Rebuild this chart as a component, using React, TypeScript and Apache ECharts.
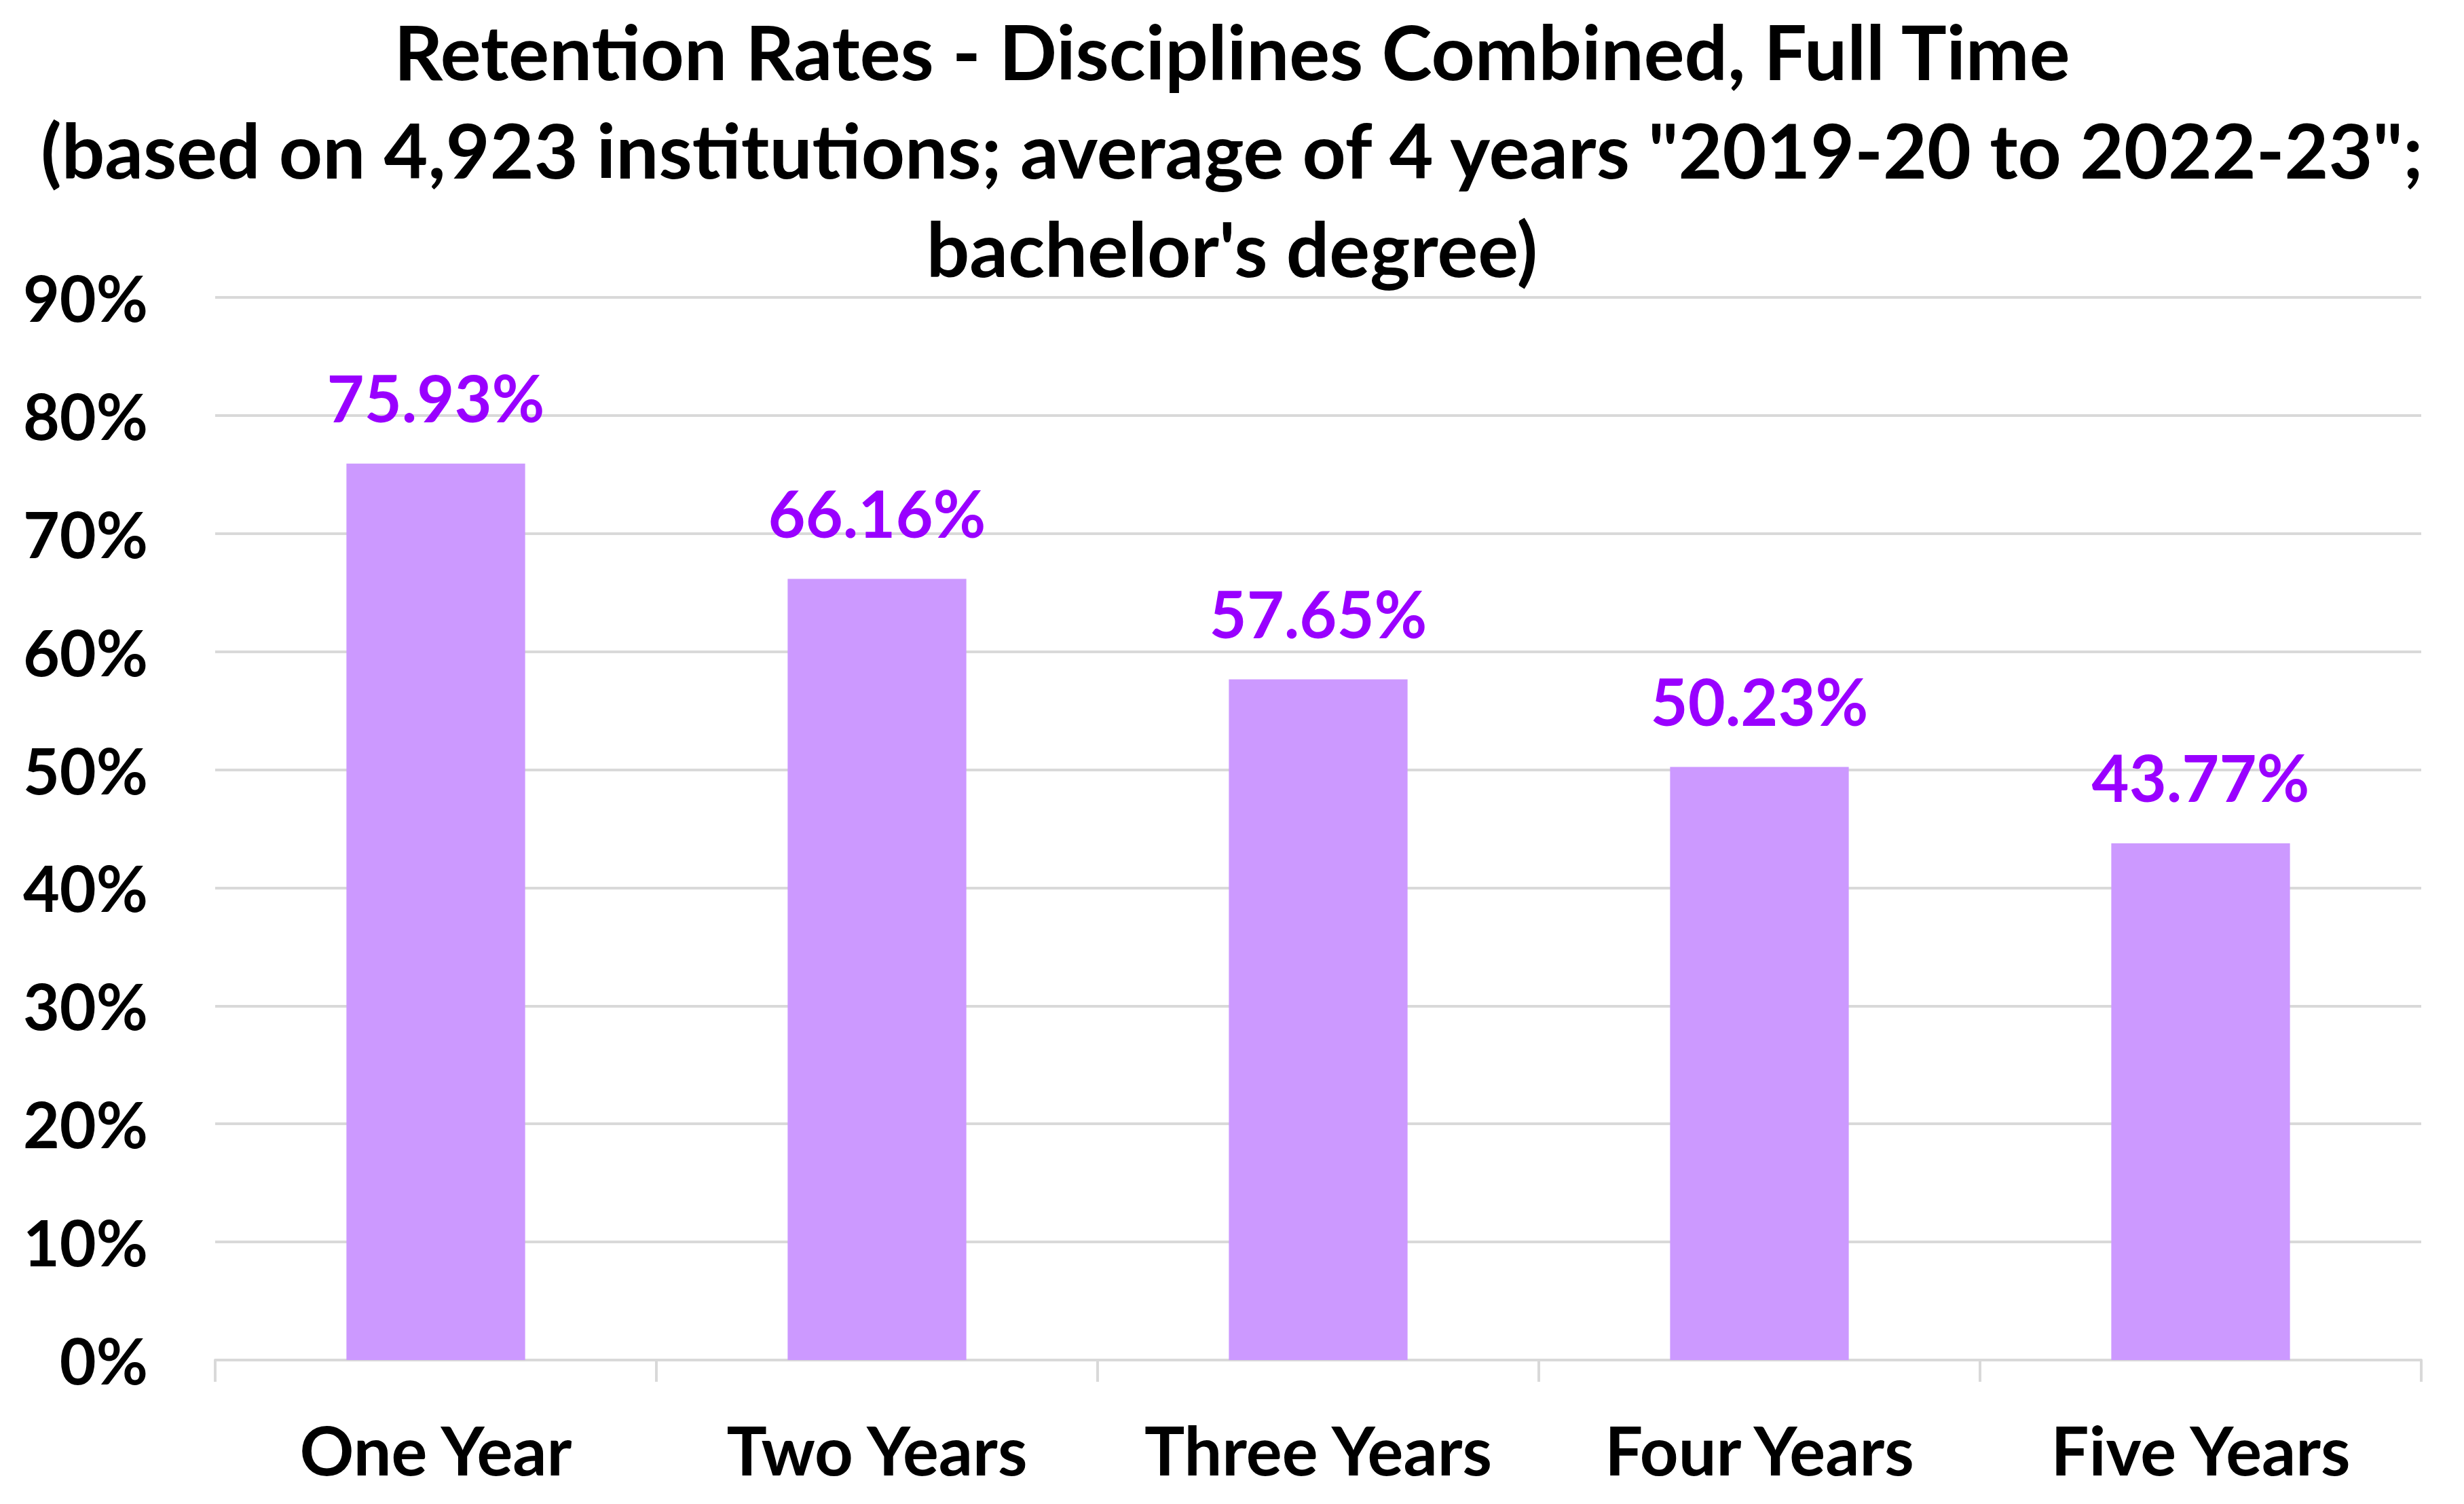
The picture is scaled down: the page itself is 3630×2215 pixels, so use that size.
import React, { useEffect, useRef } from "react";
import * as echarts from "echarts";

const titleLines = [
  "Retention Rates - Disciplines Combined, Full Time",
  '(based on 4,923 institutions; average of 4 years "2019-20 to 2022-23";',
  "bachelor's degree)",
];
const categories = ["One Year", "Two Years", "Three Years", "Four Years", "Five Years"];
const retention = [75.93, 66.16, 57.65, 50.23, 43.77];
const yTicks = [0, 10, 20, 30, 40, 50, 60, 70, 80, 90];

const FONT = "Lato";

export default function App() {
  const ref = useRef<HTMLDivElement>(null);
  useEffect(() => {
    document.body.style.margin = "0";
    const chart = echarts.init(ref.current!, null, { renderer: "svg" });
    chart.setOption({
      animation: false,
      backgroundColor: "#ffffff",
      graphic: titleLines.map((line, i) => ({
        type: "text",
        x: 1815,
        y: 74 + i * 145,
        style: {
          text: line,
          textAlign: "center",
          textVerticalAlign: "middle",
          fontFamily: FONT,
          fontWeight: "bold",
          fontSize: 112,
          fill: "#000000",
        },
      })),
      grid: { left: 317, right: 63, top: 438, bottom: 212, containLabel: false },
      xAxis: {
        type: "category",
        data: categories,
        axisLine: { lineStyle: { color: "#D9D9D9", width: 4 } },
        axisTick: { show: true, interval: 0, length: 32, lineStyle: { color: "#D9D9D9", width: 4 } },
        axisLabel: {
          interval: 0,
          hideOverlap: false,
          margin: 82,
          fontFamily: FONT,
          fontWeight: "bold",
          fontSize: 99,
          color: "#000000",
        },
      },
      yAxis: {
        type: "value",
        min: yTicks[0],
        max: yTicks[yTicks.length - 1],
        interval: 10,
        axisLine: { show: false },
        axisTick: { show: false },
        splitLine: { lineStyle: { color: "#D9D9D9", width: 4 } },
        axisLabel: {
          margin: 99,
          fontFamily: FONT,
          fontWeight: "bold",
          fontSize: 93,
          color: "#000000",
          formatter: (v: number) => `${v}%`,
        },
      },
      series: [
        {
          type: "bar",
          data: retention,
          barWidth: "40.5%",
          itemStyle: { color: "#CC99FF" },
          label: {
            show: true,
            position: "top",
            distance: 50,
            fontFamily: FONT,
            fontWeight: "bold",
            fontSize: 95,
            color: "#9900FF",
            formatter: (p: any) => `${p.value.toFixed(2)}%`,
          },
        },
      ],
    });
    return () => chart.dispose();
  }, []);
  return (
    <div
      ref={ref}
      style={{ position: "fixed", left: 0, top: 0, width: 3630, height: 2215 }}
    />
  );
}
